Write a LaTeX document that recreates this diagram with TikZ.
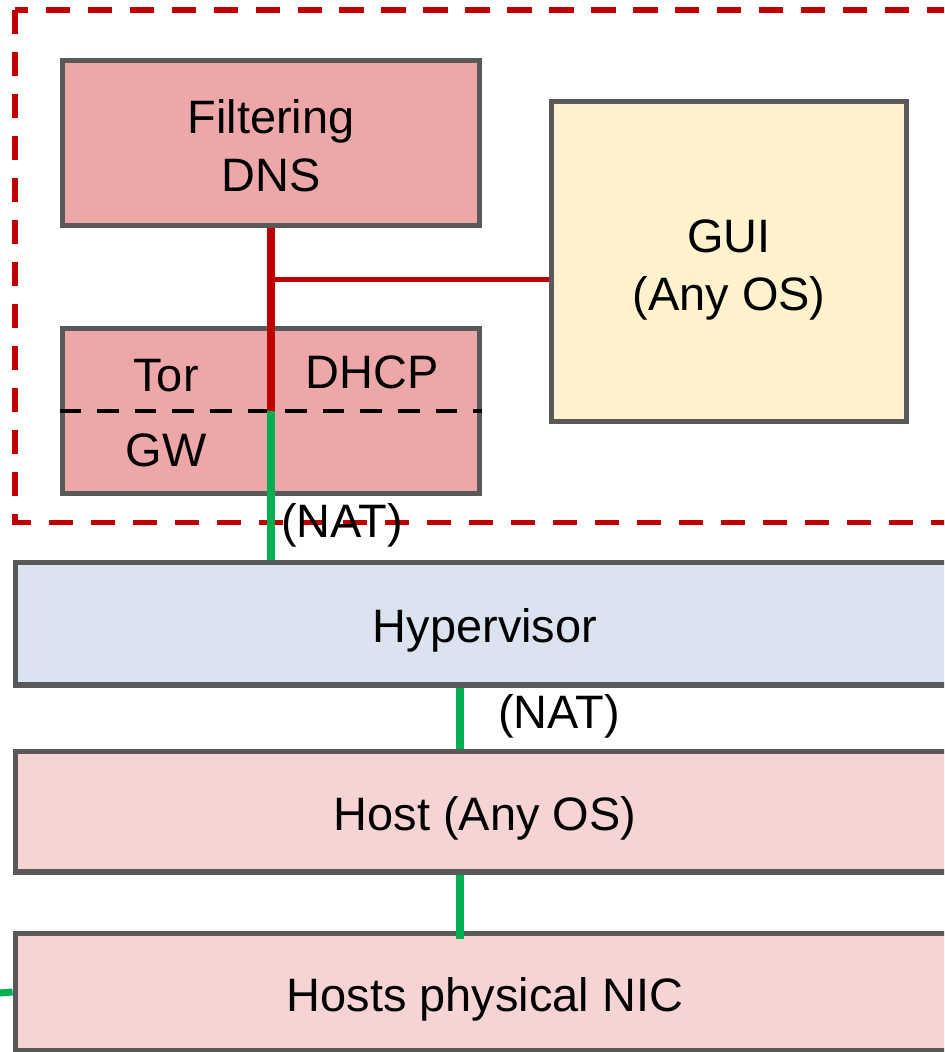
\documentclass[tikz,border=0pt]{standalone}
\usepackage{fontspec}
\setmainfont{Liberation Sans}
\usetikzlibrary{positioning,calc}
\definecolor{boxline}{RGB}{89,89,89}
\definecolor{vmred}{RGB}{237,167,169}
\definecolor{guifill}{RGB}{255,242,204}
\definecolor{hypfill}{RGB}{219,226,240}
\definecolor{hostfill}{RGB}{246,212,212}
\definecolor{netred}{RGB}{192,0,0}
\definecolor{netgreen}{RGB}{0,176,80}

\begin{document}
\begin{tikzpicture}[
  x=0.02cm, y=-0.02cm,
  every node/.style={font=\fontsize{26.7}{33}\selectfont},
  box/.style={draw=boxline, line width=2.85pt, align=center, inner sep=0pt},
  vm/.style={box, fill=vmred, minimum width=8.36cm, minimum height=3.32cm},
  layer/.style={box, minimum width=18.8cm, text height=21.9pt, text depth=0pt},
  lbl/.style={inner sep=0pt, align=center},
  vmgroup/.style={draw=netred, line width=2.85pt, dash pattern=on 13.7pt off 10.2pt},
  split/.style={draw=black, line width=2.3pt, dash pattern=on 12.3pt off 9.1pt},
  redline/.style={draw=netred, line width=4pt},
  greenline/.style={draw=netgreen, line width=4pt},
]
\useasboundingbox (0,0) rectangle (944,1052);
\clip (0,0) rectangle (944,1052);

% VM group
\draw[vmgroup] (15,10) rectangle (1000,522);

\node[vm] (dns) at (271,143) {};
\node[lbl] (dnslbl) at ([yshift=-0.06cm]dns.center) {Filtering\\DNS};
\node[box, fill=guifill, minimum width=7.12cm, minimum height=6.42cm] (gui) at (729,261.5) {};
\node[lbl] (guilbl) at ([yshift=-0.16cm]gui.center) {GUI\\(Any OS)};
\node[vm] (tor) at (271,411) {};
\draw[split] (tor.west) -- (tor.east);
\node[lbl] (torlbl)  at (166,376) {Tor};
\node[lbl] (dhcplbl) at (372,372) {DHCP};
\node[lbl] (gwlbl)   at (166,450) {GW};

% Host layers
\node[layer, fill=hypfill, minimum height=2.46cm] (hyp) at (485,623.5) {Hypervisor};
\node[layer, fill=hostfill, minimum height=2.42cm] (host) at (485,811.5) {Host (Any OS)};
\node[layer, fill=hostfill, minimum height=2.36cm] (nic) at (485,992) {Hosts physical NIC};

% Links
\coordinate (tap) at ($(dns.south)!0.28!(tor.center)$);
\draw[redline] (dns.south) -- (tor.center);
\draw[redline, line width=2.85pt] (tap) -- (tap -| gui.west);
\draw[greenline] (tor.center) -- (tor.center |- hyp.north);
\draw[greenline] ([xshift=-0.5cm]hyp.south) -- ([xshift=-0.5cm]host.north);
\draw[greenline] ([xshift=-0.5cm]host.south) -- ([xshift=-0.5cm, yshift=-0.16cm]nic.north);
\coordinate (uplink) at (0,993);
\draw[greenline] (uplink) -- (nic.west);

\node[lbl] (nat1) at (342,525) {(NAT)};
\node[lbl] (nat2) at (559,716) {(NAT)};

\end{tikzpicture}
\end{document}
